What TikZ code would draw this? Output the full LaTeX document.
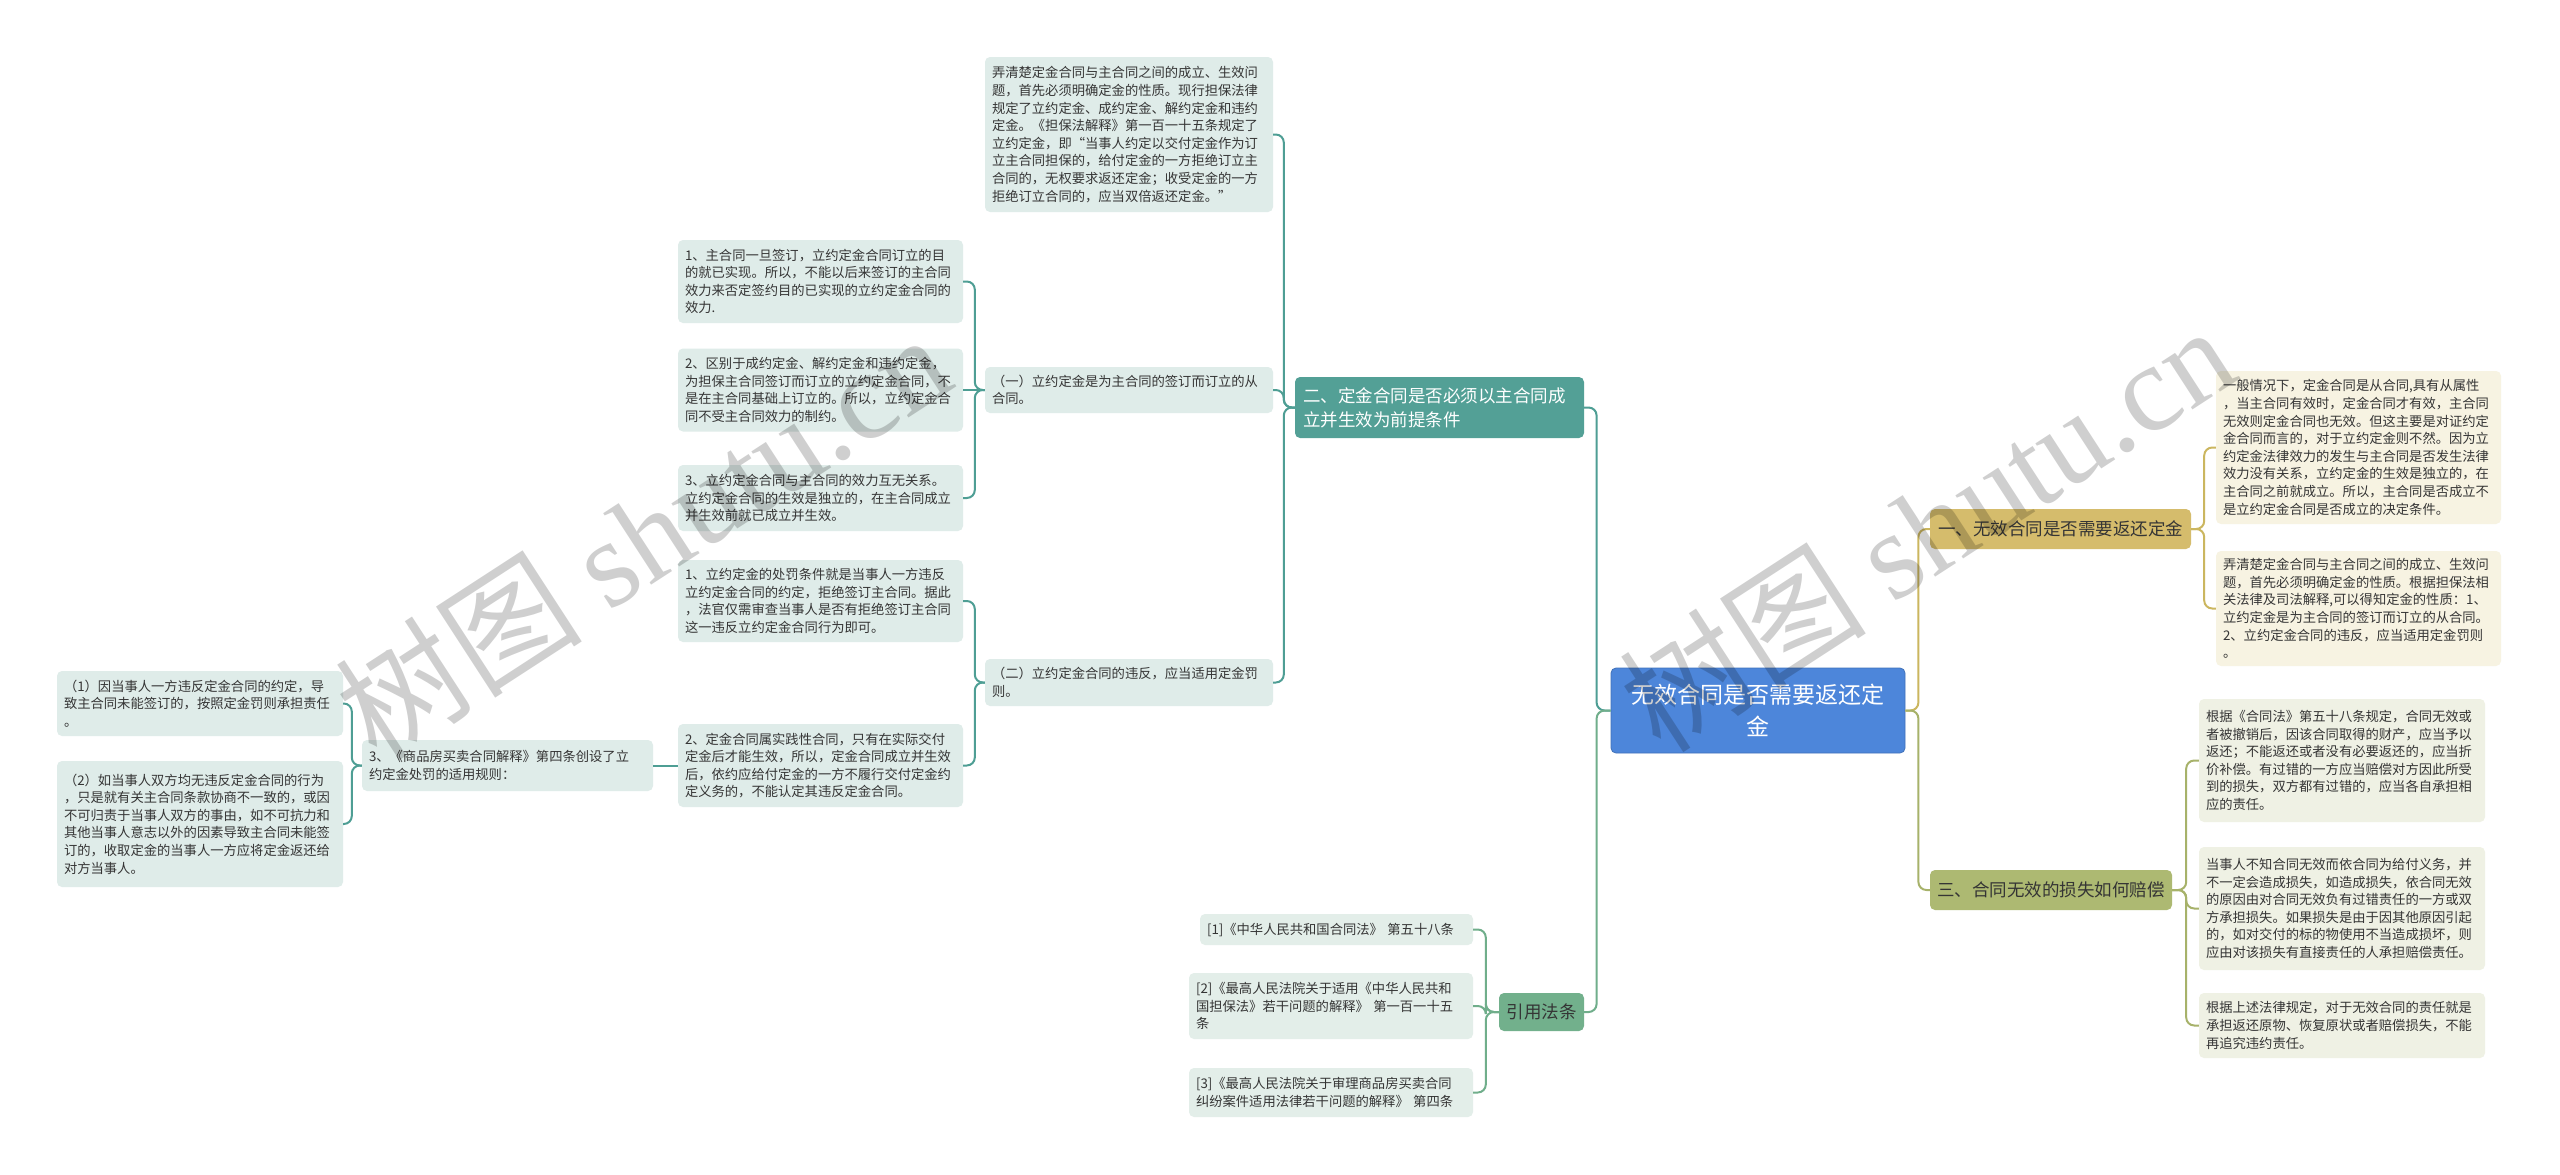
\documentclass[tikz,border=0pt]{standalone}
\usepackage{fontspec}
\setmainfont{Noto Sans CJK SC}
\newfontfamily\wmlatin{Liberation Serif}
\definecolor{rootblue}{HTML}{4D86DA}
\definecolor{tealb}{HTML}{53A096}
\definecolor{greenb}{HTML}{72B08C}
\definecolor{goldb}{HTML}{D5BC6C}
\definecolor{oliveb}{HTML}{ADB972}
\definecolor{tealline}{HTML}{4E9E94}
\definecolor{greenline}{HTML}{70AE8B}
\definecolor{goldline}{HTML}{CBB65F}
\definecolor{oliveline}{HTML}{A7B26A}
\definecolor{leafteal}{HTML}{DFECE9}
\definecolor{leafgreen}{HTML}{E3EEE9}
\definecolor{leafgold}{HTML}{F7F3E2}
\definecolor{leafolive}{HTML}{EFF1E4}
\definecolor{txt}{HTML}{353535}
\tikzset{
  box/.style={rounded corners=5pt, inner xsep=7pt, inner ysep=3pt, text=txt},
  leafbox/.style={box, align=left, font=\fontsize{13.3}{17.6}\selectfont},
  leafT/.style={leafbox, fill=leafteal},
  leafG/.style={leafbox, fill=leafgreen},
  leafY/.style={leafbox, fill=leafgold},
  leafO/.style={leafbox, fill=leafolive},
  brbox/.style={box, font=\fontsize{17.5}{24}\selectfont},
  brT/.style={brbox, fill=tealb, text=white, align=left},
  brG/.style={brbox, fill=greenb, align=center},
  brY/.style={brbox, fill=goldb, align=center},
  brO/.style={brbox, fill=oliveb, align=center},
  rootbox/.style={box, fill=rootblue, draw=rootblue!85!black, line width=0.8pt, text=white, align=center, font=\fontsize{23}{32}\selectfont},
  conn/.style={line width=2pt, rounded corners=8pt},
  lnT/.style={conn, draw=tealline},
  lnG/.style={conn, draw=greenline},
  lnY/.style={conn, draw=goldline},
  lnO/.style={conn, draw=oliveline},
  wm/.style={rotate=33, text=black, text opacity=0.19, font=\fontsize{124}{124}\selectfont}
}
\begin{document}
\begin{tikzpicture}[x=1pt,y=-1pt]
\useasboundingbox (0,0) rectangle (2560,1175);
\fill[white] (0,0) rectangle (2560,1175);

% root
\node[rootbox, minimum width=294pt, minimum height=85pt] (root) at (1758,710.5) {无效合同是否需要返还定\\金};

% main branches
\node[brT, minimum width=289pt, minimum height=61pt, text width=273pt] (two) at (1439.5,407.5) {二、定金合同是否必须以主合同成\\立并生效为前提条件};
\node[brG, minimum width=85pt, minimum height=38pt] (cite) at (1541.5,1012) {引用法条};
\node[brY, minimum width=261pt, minimum height=40pt] (one) at (2060.5,529) {一、无效合同是否需要返还定金};
\node[brO, minimum width=242pt, minimum height=40pt] (three) at (2051,890) {三、合同无效的损失如何赔偿};

% left subtree of two
\node[leafT, minimum width=288pt, minimum height=155pt, text width=274pt] (a0) at (1129,134.5) {弄清楚定金合同与主合同之间的成立、生效问\\题，首先必须明确定金的性质。现行担保法律\\规定了立约定金、成约定金、解约定金和违约\\定金。《担保法解释》第一百一十五条规定了\\立约定金，即“当事人约定以交付定金作为订\\立主合同担保的，给付定金的一方拒绝订立主\\合同的，无权要求返还定金；收受定金的一方\\拒绝订立合同的，应当双倍返还定金。”};
\node[leafT, minimum width=288pt, minimum height=46pt, text width=274pt] (a1) at (1129,390) {（一）立约定金是为主合同的签订而订立的从\\合同。};
\node[leafT, minimum width=288pt, minimum height=47pt, text width=274pt] (a2) at (1129,682.5) {（二）立约定金合同的违反，应当适用定金罚\\则。};

\node[leafT, minimum width=285pt, minimum height=83pt, text width=271pt] (b1) at (820.5,281.5) {1、主合同一旦签订，立约定金合同订立的目\\的就已实现。所以，不能以后来签订的主合同\\效力来否定签约目的已实现的立约定金合同的\\效力.};
\node[leafT, minimum width=285pt, minimum height=83pt, text width=271pt] (b2) at (820.5,390) {2、区别于成约定金、解约定金和违约定金，\\为担保主合同签订而订立的立约定金合同，不\\是在主合同基础上订立的。所以，立约定金合\\同不受主合同效力的制约。};
\node[leafT, minimum width=285pt, minimum height=66pt, text width=271pt] (b3) at (820.5,498) {3、立约定金合同与主合同的效力互无关系。\\立约定金合同的生效是独立的，在主合同成立\\并生效前就已成立并生效。};

\node[leafT, minimum width=285pt, minimum height=82pt, text width=271pt] (c1) at (820.5,601) {1、立约定金的处罚条件就是当事人一方违反\\立约定金合同的约定，拒绝签订主合同。据此\\，法官仅需审查当事人是否有拒绝签订主合同\\这一违反立约定金合同行为即可。};
\node[leafT, minimum width=285pt, minimum height=83pt, text width=271pt] (c2) at (820.5,765.5) {2、定金合同属实践性合同，只有在实际交付\\定金后才能生效，所以，定金合同成立并生效\\后，依约应给付定金的一方不履行交付定金约\\定义务的，不能认定其违反定金合同。};

\node[leafT, minimum width=291pt, minimum height=51pt, text width=277pt] (d) at (507.5,765.5) {3、《商品房买卖合同解释》第四条创设了立\\约定金处罚的适用规则：};

\node[leafT, minimum width=286pt, minimum height=65pt, text width=272pt] (e1) at (200,703.5) {（1）因当事人一方违反定金合同的约定，导\\致主合同未能签订的，按照定金罚则承担责任\\。};
\node[leafT, minimum width=286pt, minimum height=126pt, text width=272pt] (e2) at (200,824) {（2）如当事人双方均无违反定金合同的行为\\，只是就有关主合同条款协商不一致的，或因\\不可归责于当事人双方的事由，如不可抗力和\\其他当事人意志以外的因素导致主合同未能签\\订的，收取定金的当事人一方应将定金返还给\\对方当事人。};

% references
\node[leafG, minimum width=273pt, minimum height=31pt, text width=259pt] (r1) at (1336.5,929.5) {[1]《中华人民共和国合同法》 第五十八条};
\node[leafG, minimum width=284pt, minimum height=66pt, text width=270pt] (r2) at (1331,1006) {[2]《最高人民法院关于适用《中华人民共和\\国担保法》若干问题的解释》 第一百一十五\\条};
\node[leafG, minimum width=284pt, minimum height=49pt, text width=270pt] (r3) at (1331,1092.5) {[3]《最高人民法院关于审理商品房买卖合同\\纠纷案件适用法律若干问题的解释》 第四条};

% right subtree one
\node[leafY, minimum width=285pt, minimum height=153pt, text width=271pt] (l1a) at (2358.5,447.5) {一般情况下，定金合同是从合同,具有从属性\\，当主合同有效时，定金合同才有效，主合同\\无效则定金合同也无效。但这主要是对证约定\\金合同而言的，对于立约定金则不然。因为立\\约定金法律效力的发生与主合同是否发生法律\\效力没有关系，立约定金的生效是独立的，在\\主合同之前就成立。所以，主合同是否成立不\\是立约定金合同是否成立的决定条件。};
\node[leafY, minimum width=285pt, minimum height=115pt, text width=271pt] (l1b) at (2358.5,608.5) {弄清楚定金合同与主合同之间的成立、生效问\\题，首先必须明确定金的性质。根据担保法相\\关法律及司法解释,可以得知定金的性质：1、\\立约定金是为主合同的签订而订立的从合同。\\2、立约定金合同的违反，应当适用定金罚则\\。};

% right subtree three
\node[leafO, minimum width=286pt, minimum height=123pt, text width=272pt] (l3a) at (2342,760.5) {根据《合同法》第五十八条规定，合同无效或\\者被撤销后，因该合同取得的财产，应当予以\\返还；不能返还或者没有必要返还的，应当折\\价补偿。有过错的一方应当赔偿对方因此所受\\到的损失，双方都有过错的，应当各自承担相\\应的责任。};
\node[leafO, minimum width=286pt, minimum height=123pt, text width=272pt] (l3b) at (2342,908.5) {当事人不知合同无效而依合同为给付义务，并\\不一定会造成损失，如造成损失，依合同无效\\的原因由对合同无效负有过错责任的一方或双\\方承担损失。如果损失是由于因其他原因引起\\的，如对交付的标的物使用不当造成损坏，则\\应由对该损失有直接责任的人承担赔偿责任。};
\node[leafO, minimum width=286pt, minimum height=65pt, text width=272pt] (l3c) at (2342,1025.5) {根据上述法律规定，对于无效合同的责任就是\\承担返还原物、恢复原状或者赔偿损失，不能\\再追究违约责任。};

% connectors
\draw[lnT] (root.west) -- ++(-14,0) |- (two.east);
\draw[lnG] (root.west) -- ++(-14,0) |- (cite.east);
\draw[lnY] (root.east) -- ++(13,0) |- (one.west);
\draw[lnO] (root.east) -- ++(13,0) |- (three.west);

\draw[lnT] (two.west) -- ++(-11,0) |- (a0.east);
\draw[lnT] (two.west) -- ++(-11,0) |- (a1.east);
\draw[lnT] (two.west) -- ++(-11,0) |- (a2.east);

\draw[lnT] (a1.west) -- ++(-10,0) |- (b1.east);
\draw[lnT] (a1.west) -- (b2.east);
\draw[lnT] (a1.west) -- ++(-10,0) |- (b3.east);

\draw[lnT] (a2.west) -- ++(-10,0) |- (c1.east);
\draw[lnT] (a2.west) -- ++(-10,0) |- (c2.east);

\draw[lnT] (c2.west) -- (d.east);

\draw[lnT] (d.west) -- ++(-10,0) |- (e1.east);
\draw[lnT] (d.west) -- ++(-10,0) |- (e2.east);

\draw[lnG] (cite.west) -- ++(-13,0) |- (r1.east);
\draw[lnG] (cite.west) -- ++(-13,0) |- (r2.east);
\draw[lnG] (cite.west) -- ++(-13,0) |- (r3.east);

\draw[lnY] (one.east) -- ++(13,0) |- (l1a.west);
\draw[lnY] (one.east) -- ++(13,0) |- (l1b.west);

\draw[lnO] (three.east) -- ++(14,0) |- (l3a.west);
\draw[lnO] (three.east) -- ++(14,0) |- (l3b.west);
\draw[lnO] (three.east) -- ++(14,0) |- (l3c.west);

% watermark
\node[wm] (wm1) at (642,535) {树图 {\wmlatin shutu.cn}};
\node[wm] (wm2) at (1926,527) {树图 {\wmlatin shutu.cn}};
\end{tikzpicture}
\end{document}
